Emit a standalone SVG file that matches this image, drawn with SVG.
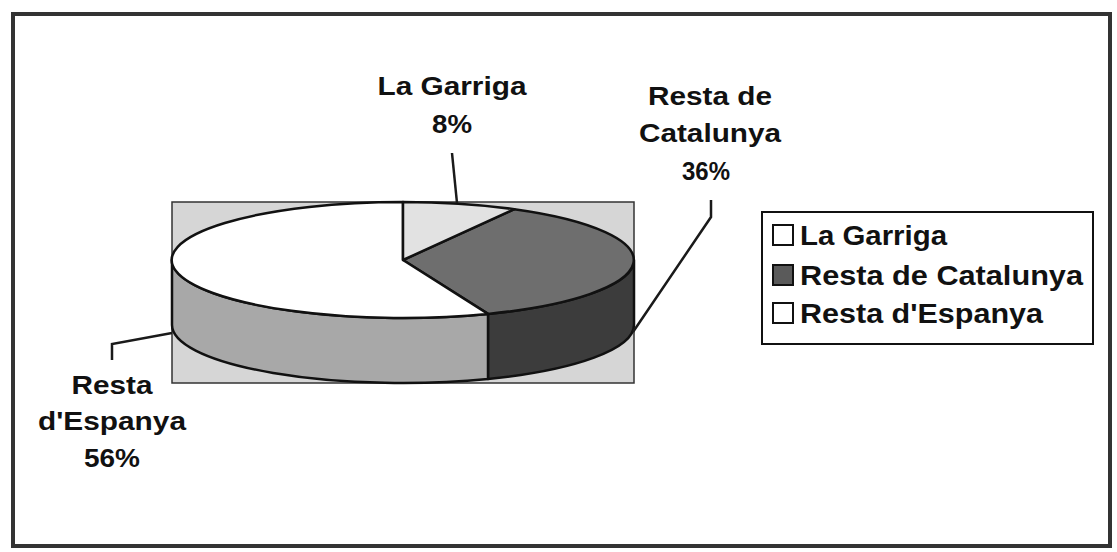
<svg xmlns="http://www.w3.org/2000/svg" width="1117" height="552" viewBox="0 0 1117 552">
<style>
.lbl{font-family:"Liberation Sans",Arial,sans-serif;font-weight:bold;font-size:26px;fill:#111;text-anchor:middle}
.leg{font-family:"Liberation Sans",Arial,sans-serif;font-weight:bold;font-size:28px;fill:#111}
.edge{stroke:#111;stroke-width:2.5;stroke-linejoin:round}
.lead{fill:none;stroke:#1a1a1a;stroke-width:2.5}
.sw{stroke:#111;stroke-width:2}
</style>
<rect x="0" y="0" width="1117" height="552" fill="#ffffff"/>
<rect id="frame" x="13" y="14" width="1097" height="532" fill="none" stroke="#333" stroke-width="4"/>
<g id="plot-area">
<rect x="172" y="202" width="462" height="181" fill="#d6d6d6" stroke="#333" stroke-width="1.5"/>
</g>
<g id="pie">
<g id="slice-catalunya">
<path class="edge" d="M634,260 A231,58 0 0,1 488,313.9 L488,378.9 A231,58 0 0,0 634,325 Z" fill="#3c3c3c"/>
<path class="edge" d="M403,260 L514.3,209.2 A231,58 0 0,1 488,313.9 Z" fill="#6e6e6e"/>
</g>
<g id="slice-espanya">
<path class="edge" d="M488,313.9 A231,58 0 0,1 172,260 L172,325 A231,58 0 0,0 488,378.9 Z" fill="#a8a8a8"/>
<path class="edge" d="M403,260 L488,313.9 A231,58 0 1,1 403,202 Z" fill="#ffffff"/>
</g>
<g id="slice-garriga">
<path class="edge" d="M403,260 L403,202 A231,58 0 0,1 514.3,209.2 Z" fill="#e2e2e2"/>
</g>
</g>
<g id="connectors">
<polyline class="lead" points="452,153 457,203"/>
<polyline class="lead" points="711,200 711,217 633,332"/>
<polyline class="lead" points="172,333 112,344 112,360"/>
</g>
<g id="label-garriga">
<text class="lbl" x="452" y="95" textLength="149" lengthAdjust="spacingAndGlyphs">La Garriga</text>
<text class="lbl" x="452" y="133" textLength="40" lengthAdjust="spacingAndGlyphs">8%</text>
</g>
<g id="label-catalunya">
<text class="lbl" x="710" y="105" textLength="124" lengthAdjust="spacingAndGlyphs">Resta de</text>
<text class="lbl" x="710" y="142" textLength="142" lengthAdjust="spacingAndGlyphs">Catalunya</text>
<text class="lbl" x="706" y="180" textLength="48" lengthAdjust="spacingAndGlyphs">36%</text>
</g>
<g id="label-espanya">
<text class="lbl" x="112" y="394" textLength="81" lengthAdjust="spacingAndGlyphs">Resta</text>
<text class="lbl" x="112" y="430" textLength="148" lengthAdjust="spacingAndGlyphs">d'Espanya</text>
<text class="lbl" x="112" y="467" textLength="56" lengthAdjust="spacingAndGlyphs">56%</text>
</g>
<g id="legend">
<rect x="762" y="212" width="331" height="132" fill="#ffffff" stroke="#111" stroke-width="2"/>
<rect class="sw" x="773" y="225" width="20" height="20" fill="#ffffff"/>
<text class="leg" x="800" y="245" textLength="147" lengthAdjust="spacingAndGlyphs">La Garriga</text>
<rect class="sw" x="773" y="265" width="20" height="20" fill="#5a5a5a"/>
<text class="leg" x="800" y="285" textLength="283" lengthAdjust="spacingAndGlyphs">Resta de Catalunya</text>
<rect class="sw" x="773" y="303" width="20" height="20" fill="#ffffff"/>
<text class="leg" x="800" y="323" textLength="243" lengthAdjust="spacingAndGlyphs">Resta d'Espanya</text>
</g>
</svg>
